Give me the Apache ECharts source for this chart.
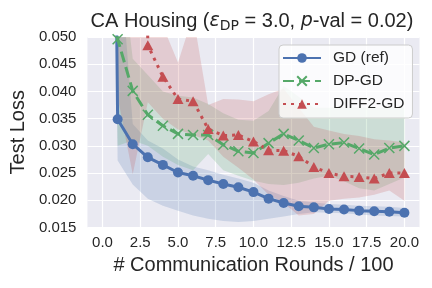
<!DOCTYPE html>
<html><head><meta charset="utf-8">
<script src="https://cdn.jsdelivr.net/npm/echarts@6/dist/echarts.min.js"></script>
<style>html,body{margin:0;padding:0;background:#fff}#c{width:432px;height:288px}</style>
</head><body><div id="c"></div>
<script>
// ---- data (x in hundreds of communication rounds) ----
var rounds = [0,1,2,3,4,5,6,7,8,9,10,11,12,13,14,15,16,17,18,19,20];
var gdMean  = [0.3,0.0349,0.0303,0.0279,0.0265,0.0251,0.0245,0.0237,0.0230,0.0224,0.0215,0.0203,0.0195,0.0189,0.0187,0.0184,0.0183,0.0181,0.0180,0.0179,0.0177];
var gdLow   = [0.25,0.0273,0.0229,0.0203,0.0190,0.0181,0.0172,0.0166,0.0162,0.0160,0.0162,0.0166,0.0170,0.0175,0.0178,0.0177,0.0176,0.0174,0.0172,0.0171,0.0170];
var gdHigh  = [0.4,0.07,0.034,0.031,0.0295,0.0275,0.0262,0.0255,0.0247,0.0240,0.0232,0.0218,0.0208,0.0199,0.0196,0.0193,0.0192,0.0190,0.0189,0.0188,0.0186];
var dpMean  = [0.3,0.0496,0.0401,0.0357,0.0337,0.0322,0.0320,0.0320,0.0302,0.0290,0.0287,0.0305,0.0322,0.0310,0.0296,0.0303,0.0306,0.0295,0.0284,0.0296,0.0300];
var dpLow   = [0.2,0.030,0.031,0.030,0.028,0.0265,0.0255,0.0285,0.0255,0.0245,0.0236,0.0230,0.0228,0.0232,0.0240,0.0245,0.0235,0.0222,0.0218,0.0230,0.0242];
var dpHigh  = [0.4,0.07,0.046,0.043,0.040,0.0392,0.0389,0.0377,0.036,0.0348,0.0346,0.0364,0.041,0.039,0.037,0.037,0.037,0.037,0.037,0.037,0.037];
var dfMean  = [0.5,0.4,0.3,0.0485,0.0427,0.0386,0.0382,0.0331,0.0319,0.0320,0.0308,0.0292,0.0291,0.0281,0.0261,0.0250,0.0244,0.0243,0.0240,0.0250,0.0250];
var dfLow   = [0.2,0.039,0.0248,0.038,0.035,0.033,0.032,0.031,0.028,0.026,0.0238,0.021,0.0195,0.0172,0.0175,0.0199,0.0203,0.0205,0.0210,0.0218,0.0199];
var dfHigh  = [0.5,0.4,0.3,0.07,0.052,0.0453,0.054,0.0375,0.0386,0.0385,0.0382,0.0395,0.0405,0.037,0.0335,0.0328,0.0322,0.0318,0.0312,0.0310,0.0306];
var xTicks = [0,2.5,5,7.5,10,12.5,15,17.5,20];
var names = ['GD (ref)','DP-GD','DIFF2-GD'];
var colors = ['#4C72B0','#55A868','#C44E52'];

function pairs(ys){ return rounds.map(function(x,i){ return [x, ys[i]]; }); }
function band(lo, hi, color, z){
  return {
    type:'custom', silent:true, clip:true, z:z, data:[0],
    renderItem:function(params, api){
      var pts = [];
      for (var i=0;i<rounds.length;i++) pts.push(api.coord([rounds[i], hi[i]]));
      for (var j=rounds.length-1;j>=0;j--) pts.push(api.coord([rounds[j], lo[j]]));
      return {type:'polygon', shape:{points:pts}, style:{fill:color, opacity:0.2}};
    }
  };
}
var FONT = 'Liberation Sans';
var chart = echarts.init(document.getElementById('c'), null, {renderer:'canvas'});
chart.setOption({
  animation:false,
  backgroundColor:'#ffffff',
  textStyle:{fontFamily:FONT, color:'#262626'},
  title:{
    text:'CA Housing ({e|ε}{s|DP} = 3.0, {p|p}-val = 0.02)',
    left:252, top:10, textAlign:'center', padding:0,
    textStyle:{fontFamily:FONT, fontSize:20, fontWeight:'normal', color:'#262626',
      rich:{
        e:{fontFamily:'DejaVu Sans', fontStyle:'italic', fontSize:19, color:'#262626'},
        s:{fontFamily:'DejaVu Sans', fontSize:14, color:'#262626', padding:[9,0,0,0]},
        p:{fontFamily:'DejaVu Sans', fontStyle:'italic', fontSize:19, color:'#262626'}
      }}
  },
  grid:{left:86.5, right:12.5, top:37, bottom:60.5, show:true, backgroundColor:'#EAEAF2', borderWidth:0},
  legend:{
    orient:'vertical', left:279, top:45, data:names,
    itemWidth:38, itemHeight:12, itemGap:7,
    padding:[5,8,6,3],
    backgroundColor:'rgba(255,255,255,0.8)', borderColor:'#cccccc', borderWidth:1, borderRadius:4,
    textStyle:{fontFamily:FONT, fontSize:15.5, color:'#262626', padding:[0,0,0,7]}
  },
  xAxis:{
    type:'value', min:-1, max:21,
    name:'# Communication Rounds / 100', nameLocation:'middle', nameGap:28,
    nameTextStyle:{fontFamily:FONT, fontSize:20, color:'#262626'},
    axisLine:{show:false},
    axisTick:{show:false, customValues:xTicks},
    axisLabel:{customValues:xTicks, fontSize:15, color:'#262626', margin:8,
      formatter:function(v){ return Number(v).toFixed(1); }},
    splitLine:{show:true, lineStyle:{color:'#ffffff', width:1.2}}
  },
  yAxis:{
    type:'value', min:0.015, max:0.05, interval:0.005,
    name:'Test Loss', nameLocation:'middle', nameGap:54,
    nameTextStyle:{fontFamily:FONT, fontSize:20, color:'#262626'},
    axisLine:{show:false}, axisTick:{show:false},
    axisLabel:{fontSize:15, color:'#262626', margin:11,
      formatter:function(v){ return Number(v).toFixed(3); }},
    splitLine:{show:true, lineStyle:{color:'#ffffff', width:1.2}}
  },
  series:[
    band(gdLow, gdHigh, colors[0], 1),
    band(dpLow, dpHigh, colors[1], 1),
    band(dfLow, dfHigh, colors[2], 1),
    {name:names[0], type:'line', z:5, clip:true, data:pairs(gdMean), color:colors[0],
     symbol:'circle', symbolSize:10, showSymbol:true,
     lineStyle:{width:3, color:colors[0]}, itemStyle:{color:colors[0]}},
    {name:names[1], type:'line', z:5, clip:true, data:pairs(dpMean), color:colors[1],
     symbol:'path://M0,0L10,10M10,0L0,10', symbolSize:10, showSymbol:true,
     lineStyle:{width:3, color:colors[1], type:[11,5]},
     itemStyle:{color:colors[1], borderColor:colors[1], borderWidth:1.5}},
    {name:names[2], type:'line', z:5, clip:true, data:pairs(dfMean), color:colors[2],
     symbol:'triangle', symbolSize:[11,10], showSymbol:true,
     lineStyle:{width:3, color:colors[2], type:[3,5]},
     itemStyle:{color:colors[2]}}
  ]
});
</script></body></html>
